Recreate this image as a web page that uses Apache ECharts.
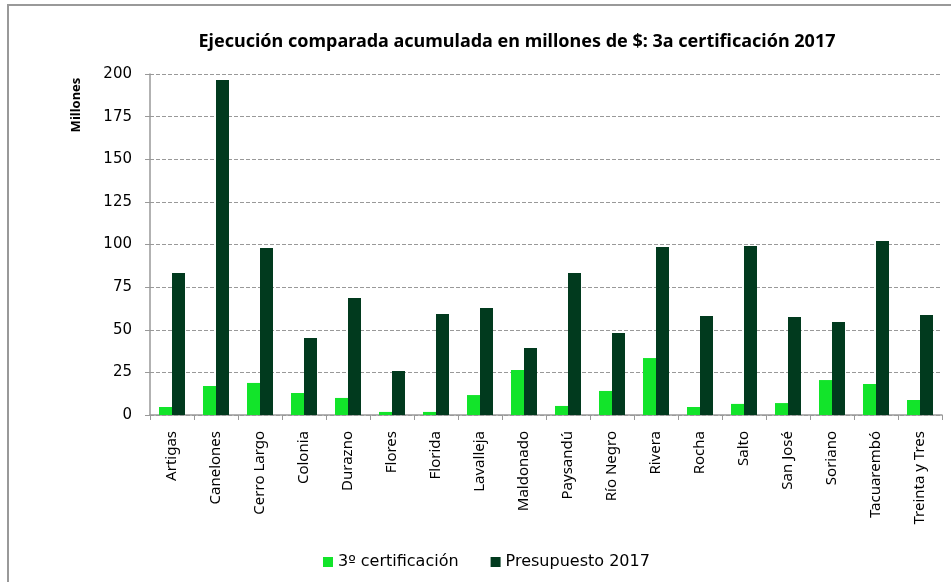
<!DOCTYPE html>
<html>
<head>
<meta charset="utf-8">
<script src="https://cdn.jsdelivr.net/npm/echarts@6/dist/echarts.min.js"></script>
<style>
  html, body { margin: 0; padding: 0; background: #fff; }
  #main { width: 951px; height: 582px; }
</style>
</head>
<body>
<div id="main"></div>
<script>
// departamentos
var categorias = ['Artigas', 'Canelones', 'Cerro Largo', 'Colonia', 'Durazno', 'Flores', 'Florida',
  'Lavalleja', 'Maldonado', 'Paysandú', 'Río Negro', 'Rivera', 'Rocha', 'Salto', 'San José',
  'Soriano', 'Tacuarembó', 'Treinta y Tres'];
var certificacion = [4.7, 17.0, 18.8, 12.9, 10.0, 1.8, 1.8, 11.7, 26.4, 5.3, 14.1, 33.4, 4.7, 6.5, 7.0, 20.5, 18.2, 8.8];
var presupuesto = [83.3, 196.5, 97.9, 45.2, 68.6, 25.8, 59.2, 62.8, 39.3, 83.3, 48.1, 98.5, 58.1, 99.1, 57.5, 54.5, 102.1, 58.7];
var nombresSerie = ['3º certificación', 'Presupuesto 2017'];

var fuente = 'Noto Sans';
var fuenteAncha = 'DejaVu Sans';
var chart = echarts.init(document.getElementById('main'));
chart.setOption({
    animation: false,
    backgroundColor: '#fff',
    textStyle: { fontFamily: fuente },
    title: {
        text: 'Ejecución comparada acumulada en millones de $: 3a certificación 2017',
        left: 512,
        textAlign: 'center',
        top: 28,
        textStyle: { fontFamily: fuente, fontSize: 18, fontWeight: 'bold', color: '#000' }
    },
    graphic: [
        {
            type: 'rect',
            shape: { x: 8, y: 5, width: 980, height: 620 },
            style: { fill: 'none', stroke: '#999', lineWidth: 2 },
            silent: true
        },
        {
            type: 'text',
            x: 76, y: 105,
            rotation: Math.PI / 2,
            style: {
                text: 'Millones',
                fontFamily: fuente, fontSize: 13, fontWeight: 'bold', fill: '#000',
                align: 'center', verticalAlign: 'middle'
            }
        }
    ],
    legend: {
        data: nombresSerie,
        left: 318,
        top: 549,
        icon: 'rect',
        itemWidth: 10,
        itemHeight: 10,
        itemGap: 32,
        textStyle: { fontFamily: fuenteAncha, fontSize: 16, color: '#000' }
    },
    grid: { left: 150, right: 9, top: 74, bottom: 167 },
    xAxis: {
        type: 'category',
        data: categorias,
        axisLine: { lineStyle: { color: '#999', width: 1.5 } },
        axisTick: { show: true, length: 5, lineStyle: { color: '#999' } },
        axisLabel: { rotate: 90, interval: 0, margin: 16, fontSize: 15, color: '#000', fontFamily: fuente }
    },
    yAxis: {
        type: 'value',
        min: 0, max: 200, interval: 25,
        axisLine: { show: true, lineStyle: { color: '#999', width: 1.5 } },
        axisTick: { show: true, length: 5, lineStyle: { color: '#999' } },
        axisLabel: { margin: 18, fontSize: 15, color: '#000', fontFamily: fuenteAncha },
        splitLine: { lineStyle: { color: '#999', type: [4, 2], width: 1 } }
    },
    series: [
        {
            name: nombresSerie[0],
            type: 'bar',
            data: certificacion,
            barWidth: 13,
            barGap: '0%',
            itemStyle: { color: '#12E42A' }
        },
        {
            name: nombresSerie[1],
            type: 'bar',
            data: presupuesto,
            barWidth: 13,
            itemStyle: { color: '#013A1E' }
        }
    ]
});
</script>
</body>
</html>
